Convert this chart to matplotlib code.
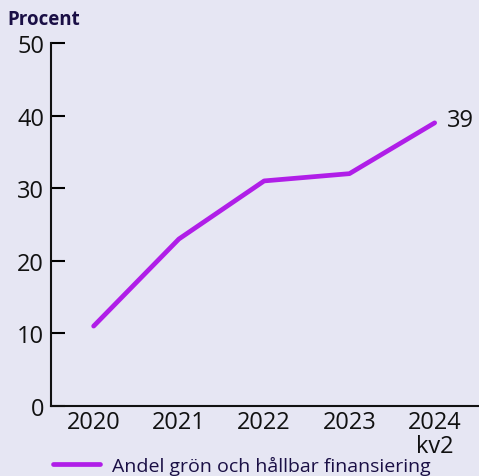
import matplotlib
matplotlib.use("Agg")
import matplotlib.pyplot as plt

years = ["2020", "2021", "2022", "2023", "2024\nkv2"]
share = [11, 23, 31, 32, 39]
yticks = [0, 10, 20, 30, 40, 50]

bg = "#e6e6f3"
purple = "#b01ee8"
navy = "#1a0f45"

plt.rcParams['font.family'] = ['Open Sans', 'DejaVu Sans']
fig = plt.figure(figsize=(4.79, 4.77), dpi=100, facecolor=bg)
ax = fig.add_axes([0.1065, 0.1468, 0.8935, 0.761])
ax.set_facecolor(bg)
x = list(range(len(years)))
ax.plot(x, share, color=purple, lw=3.4, solid_capstyle='round',
        label="Andel grön och hållbar finansiering")
ax.set_xlim(-0.5, 4.52)
ax.set_ylim(0, 50)
ax.set_yticks(yticks)
ax.set_xticks(x)
ax.set_xticklabels(years, linespacing=1.0)
for s in ["top", "right"]:
    ax.spines[s].set_visible(False)
for s in ["left", "bottom"]:
    ax.spines[s].set_linewidth(1.5)
    ax.spines[s].set_color("#111111")
ax.tick_params(axis='y', direction='in', length=10, width=1.5, labelsize=17, pad=5,
               labelcolor="#111111")
ax.tick_params(axis='x', length=0, labelsize=17, pad=3, labelcolor="#111111")
ax.annotate(str(share[-1]), (x[-1], share[-1]), xytext=(9, 2),
            textcoords='offset points', fontsize=17, va='center', ha='left',
            color="#111111")
fig.text(0.015, 0.947, "Procent", fontsize=13.5, fontweight='bold', color=navy)
leg = fig.legend(loc='lower left', bbox_to_anchor=(0.075, -0.035), frameon=False,
                 fontsize=14, handlelength=2.4, handletextpad=0.6, labelcolor=navy)
plt.savefig("out.png", dpi=100, facecolor=bg)
